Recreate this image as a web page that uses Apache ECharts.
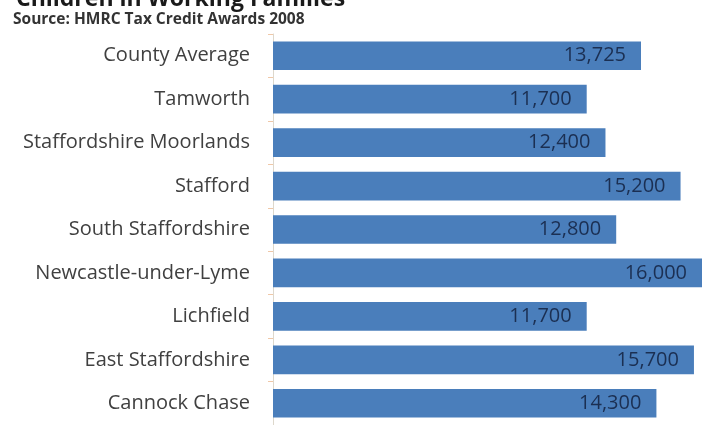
<!DOCTYPE html>
<html>
<head>
<meta charset="utf-8">
<script src="https://cdn.jsdelivr.net/npm/echarts@6/dist/echarts.min.js"></script>
<style>html,body{margin:0;padding:0;background:#fff}#c{width:702px;height:425px}</style>
</head>
<body>
<div id="c"></div>
<script>
const categories = ["County Average","Tamworth","Staffordshire Moorlands","Stafford","South Staffordshire","Newcastle-under-Lyme","Lichfield","East Staffordshire","Cannock Chase"];
const values = [13725, 11700, 12400, 15200, 12800, 16000, 11700, 15700, 14300];
const titleText = "Children in Working Families";
const sourceText = "Source: HMRC Tax Credit Awards 2008";

const chart = echarts.init(document.getElementById('c'));
chart.setOption({
  animation: false,
  title: [
    {text: titleText, left: 11, top: -17, textStyle: {fontFamily: 'Open Sans', fontSize: 23, fontWeight: 'bold', color: '#1a1a1a'}},
    {text: sourceText, left: 8, top: 7, textStyle: {fontFamily: 'Open Sans', fontSize: 15.5, fontWeight: 'bold', color: '#333'}}
  ],
  grid: {left: 273, top: 34, width: 431, height: 400, containLabel: false},
  xAxis: {type: 'value', min: 0, max: 16000, show: false},
  yAxis: {
    type: 'category', data: categories, inverse: true,
    axisLine: {show: true, lineStyle: {color: '#ddd8cc', width: 1}},
    axisTick: {show: true, length: 5, lineStyle: {color: '#f0c8a8'}},
    axisLabel: {fontFamily: 'Open Sans', fontSize: 20, color: '#404040', margin: 23}
  },
  series: [{
    type: 'bar', data: values, barCategoryGap: '34%',
    itemStyle: {color: '#4a7ebb'},
    label: {show: true, position: 'insideRight', distance: 15, fontFamily: 'Open Sans', fontSize: 20, color: '#1b2f52',
      formatter: p => p.value.toLocaleString('en-US')}
  }]
});
</script>
</body>
</html>
